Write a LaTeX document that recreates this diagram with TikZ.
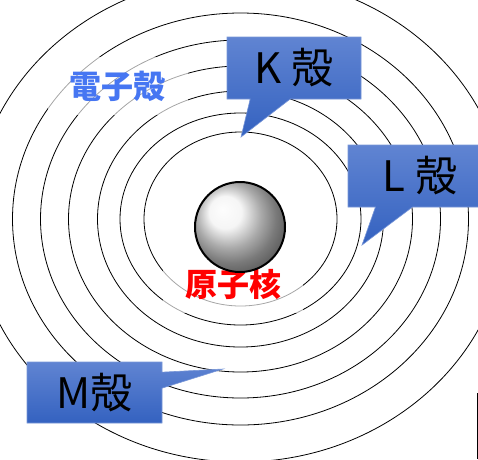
\documentclass[tikz,border=0pt]{standalone}
\usepackage{fontspec}
\setmainfont{Noto Sans CJK JP}
\usepackage{tikz}
\usetikzlibrary{shapes.callouts}

\definecolor{shellblue}{RGB}{70,118,242}
\definecolor{boxtop}{RGB}{96,132,210}
\definecolor{boxbottom}{RGB}{52,98,192}
\definecolor{boxedge}{RGB}{120,150,215}

\tikzset{
  orbit/.style={draw=black, line width=0.8pt},
  haze/.style={fill=white, fill opacity=0.65, text opacity=1,
               inner xsep=22pt, inner ysep=14pt,
               font=\bfseries\fontsize{32}{32}\selectfont},
  shellbox/.style={rectangle callout, top color=boxtop, bottom color=boxbottom,
                   draw=boxedge, line width=0.6pt, inner sep=0pt,
                   minimum width=134pt, minimum height=62pt,
                   font=\fontsize{42}{42}\selectfont, text=black},
}

\begin{document}
\begin{tikzpicture}[x=1pt,y=-1pt]
  \useasboundingbox (0,0) rectangle (478,459);
  \clip (0,0) rectangle (478,459);

  % shells
  \coordinate (c) at (240.5,219);
  \foreach \rx/\ry in {96.5/87,120.5/106,143/128,172/153,200/179,228/206,267/243}
    \draw[orbit] (c) ellipse [x radius=\rx, y radius=\ry];

  \node[haze, text=shellblue] (shellLabel) at (117.5,86) {電子殻};
  \node[haze, text=red] (nucleusLabel) at (233,284) {原子核};

  % nucleus
  \node[circle, draw, line width=2pt, minimum size=90pt, inner sep=0pt,
        ball color=gray!10] (nucleus) at (240,227) {};

  % callouts
  \coordinate (kTip) at (241,137);
  \coordinate (lTip) at (362,245);
  \coordinate (mTip) at (223,369);
  \node[shellbox, callout absolute pointer=(kTip), callout pointer width=40pt]
    (kShell) at (294,68) {K 殻};
  \node[shellbox, minimum width=144pt, callout absolute pointer=(lTip),
        callout pointer width=37pt] (lShell) at (420,176) {L 殻};
  \node[shellbox, minimum width=135pt, minimum height=61pt,
        callout absolute pointer=(mTip), callout pointer width=16pt]
    (mShell) at (94.5,392.5) {M殻};

  \draw[line width=0.8pt] (477,393) -- (477,459);
\end{tikzpicture}
\end{document}
